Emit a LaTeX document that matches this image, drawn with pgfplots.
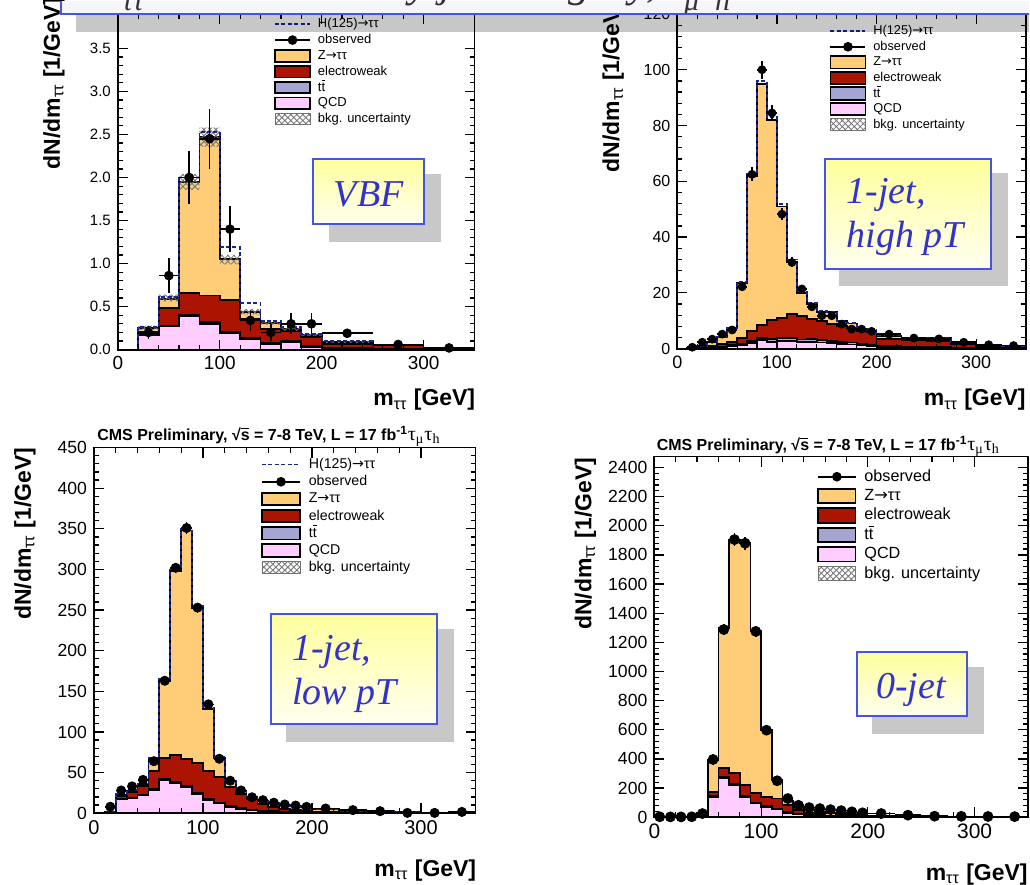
\documentclass[border=0pt]{standalone}
\usepackage{fontspec}
\setmainfont{Liberation Sans}
\newfontfamily\serifit{Liberation Serif}
\newfontfamily\dvs{DejaVu Sans}
\usepackage{pgfplots}
\usepackage{pgfplotstable}
\pgfplotsset{compat=1.18}
\usetikzlibrary{patterns}

\definecolor{zcol}{RGB}{255,205,120}
\definecolor{ewcol}{RGB}{170,20,0}
\definecolor{ttcol}{RGB}{165,165,210}
\definecolor{qcdcol}{RGB}{255,205,255}
\definecolor{hcol}{RGB}{25,35,150}
\definecolor{boxblue}{RGB}{70,85,225}
\definecolor{txtblue}{RGB}{50,50,205}
\definecolor{shadowgray}{RGB}{200,200,200}
\definecolor{titlefill}{RGB}{244,246,251}

\newcommand{\arr}{{\dvs →}}
\newcommand{\ttbar}{t\rlap{\rule[0.78em]{0.3em}{0.07em}}t}
\newcommand{\lsub}[1]{\raisebox{-0.3em}{\fontsize{15}{15}\selectfont #1}}
\newcommand{\ylab}{dN/dm\textsubscript{\mdseries ττ} [1/GeV]}
\newcommand{\xlab}{m\textsubscript{\mdseries ττ} [GeV]}
\newcommand{\cmstitle}{CMS Preliminary, √\rlap{\rule[0.74em]{0.5em}{0.06em}}s = 7-8 TeV, L = 17 fb\textsuperscript{-1}{\serifit\mdseries\fontsize{10}{10}\selectfont τ\textsubscript{μ}τ\textsubscript{h}}}

% ---------- VBF ----------
\pgfplotstableread{
e q t w z h
0 0 0 0 0 0
20 0.17 0.18 0.21 0.25 0.26
40 0.27 0.28 0.48 0.59 0.61
60 0.39 0.40 0.66 1.95 2.00
80 0.30 0.32 0.63 2.47 2.53
100 0.19 0.21 0.58 1.05 1.19
120 0.12 0.14 0.36 0.44 0.54
140 0.07 0.08 0.24 0.31 0.33
160 0.09 0.10 0.22 0.24 0.26
180 0.03 0.04 0.15 0.17 0.18
200 0.01 0.02 0.07 0.09 0.10
250 0.00 0.01 0.05 0.06 0.06
300 0.00 0.00 0.01 0.015 0.015
350 0.00 0.00 0.01 0.015 0.015
}\vbfmc
\pgfplotstableread{
x y ex ey
30 0.20 10 0.08
50 0.86 10 0.20
70 2.00 10 0.31
90 2.45 10 0.35
110 1.40 10 0.27
130 0.34 10 0.12
150 0.20 10 0.10
170 0.30 10 0.12
190 0.30 10 0.12
225 0.19 25 0.05
275 0.06 25 0.03
325 0.02 25 0.02
}\vbfobs

% ---------- 1-jet, high pT ----------
\pgfplotstableread{
e q t w z h
0 0 0 0 0 0
10 0 0 0.1 0.3 0.3
20 0.2 0.3 0.6 1.0 1.0
30 0.3 0.5 1.1 2.3 2.3
40 0.5 0.8 1.7 4.0 4.1
50 0.8 1.2 2.5 7.4 7.5
60 1.3 1.8 3.8 23.5 23.8
70 2.0 2.7 6.4 62 62.5
80 3.0 3.8 8.6 95 96
90 2.5 3.4 10.3 82 83
100 2.8 3.8 11.0 51 52
110 2.8 3.9 12.4 31 32
120 2.3 3.3 11.8 20 21
130 2.5 3.4 10.6 16 16.5
140 2.2 3.0 9.8 13 13.4
150 2.0 2.8 8.8 13 13.2
160 1.8 2.5 8.2 9.8 10
170 1.5 2.2 7.4 9.0 9.2
180 1.2 1.8 6.3 7.0 7.1
190 1.0 1.5 5.8 6.5 6.6
200 0.5 0.9 3.5 4.6 4.7
225 0.4 0.7 3.2 3.9 4.0
250 0.3 0.6 2.8 3.8 3.8
275 0.2 0.4 1.8 2.5 2.5
300 0.1 0.2 1.0 1.5 1.5
325 0.1 0.2 0.7 1.0 1.0
350 0.1 0.2 0.7 1.0 1.0
}\highmc
\pgfplotstableread{
x y ex ey
15 0.5 5 0.3
25 2.3 5 0.5
35 3.4 5 0.6
45 5.2 5 0.7
55 6.7 5 0.8
65 22.2 5 1.5
75 62.5 5 2.5
85 100 5 3.2
95 84.5 5 2.9
105 48.2 5 2.2
115 30.9 5 1.8
125 21.4 5 1.5
135 15.0 5 1.2
145 11.8 5 1.1
155 11.8 5 1.1
165 8.8 5 0.9
175 7.0 5 0.8
185 7.0 5 0.8
195 6.2 5 0.8
212.5 5.2 12.5 0.5
237.5 3.8 12.5 0.4
262.5 3.5 12.5 0.4
287.5 2.3 12.5 0.3
312.5 1.4 12.5 0.25
337.5 1.1 12.5 0.2
}\highobs

% ---------- 1-jet, low pT ----------
\pgfplotstableread{
e q t w z h
0 0 0 0 0 0
10 0 0.2 0.5 1 1
20 17 17.5 21 23 23.5
30 18 18.5 26 28 28.5
40 22 22.8 33 36 36.5
50 29 30 52 67 68
60 41 42 68 163 165
70 37 38 72 298 300
80 32 33 67 348 350
90 24 25 62 253 255
100 16 17 52 128 130
110 12 13 45 68 69
120 8 9 32 40 41
130 5 6 24 27 27.5
140 3.5 4.2 17 20 20.5
150 2.5 3 11 15 15.3
160 2 2.5 7.5 12 12.2
170 1.5 2 5 10 10.1
180 1.2 1.6 3.5 8.5 8.6
190 1 1.3 2.5 7.5 7.6
200 0.6 0.8 1.5 5 5.1
225 0.4 0.5 1 3.2 3.2
250 0.3 0.4 0.7 2.3 2.3
275 0.2 0.3 0.5 1.4 1.4
300 0.1 0.2 0.3 0.9 0.9
325 0.1 0.1 0.2 0.6 0.6
350 0.1 0.1 0.2 0.6 0.6
}\lowmc
\pgfplotstableread{
x y ex ey
15 8 5 1.2
25 28 5 2
35 33 5 2.2
45 41 5 2.5
55 64 5 3
65 163 5 5
75 302 5 6.5
85 351 5 7
95 253 5 6
105 134 5 4.5
115 67 5 3
125 40 5 2.5
135 28 5 2
145 19.6 5 1.7
155 16 5 1.5
165 12.9 5 1.3
175 10.7 5 1.1
185 9.4 5 1
195 7.8 5 1
212.5 5.8 12.5 0.5
237.5 3.8 12.5 0.4
262.5 2.5 12.5 0.3
287.5 0.4 12.5 0.15
312.5 0.4 12.5 0.15
337.5 1.6 12.5 0.2
}\lowobs

% ---------- 0-jet ----------
\pgfplotstableread{
e q t w z
0 0 0 0 0
50 140 145 172 391
60 265 275 338 1298
70 219 228 302 1905
80 139 147 219 1882
90 94 100 167 1278
100 71 76 141 597
110 53 58 128 254
120 30 34 82 115
130 19 22 48 70
140 15 17 30 52
150 8 10 21 38
160 5 6 12 28
170 3 4 8 22
180 2 3 6 16
190 1.5 2 4 12
200 1 1.5 3 9
225 0.5 1 2 5
250 0.3 0.5 1.2 3
275 0.2 0.3 0.8 2
300 0.1 0.2 0.5 1.2
325 0.1 0.1 0.3 0.8
350 0.1 0.1 0.3 0.8
}\zeromc
\pgfplotstableread{
x y ex ey
5 3 5 3
15 2 5 2
25 2 5 2
35 3 5 3
45 25 5 5
55 396 5 20
65 1288 5 36
75 1905 5 44
85 1880 5 43
95 1275 5 36
105 597 5 24
115 250 5 16
125 128 5 11
135 82 5 9
145 66 5 8
155 59 5 8
165 52 5 7
175 45 5 7
185 37 5 6
195 30 5 5
212.5 25 12.5 3
237.5 14 12.5 2.4
262.5 7 12.5 1.7
287.5 6 12.5 1.5
312.5 5 12.5 1.4
337.5 4 12.5 1.3
}\zeroobs

\pgfplotsset{
  rootax/.style={
    scale only axis, anchor=south west,
    xmin=0, xmax=350, ymin=0,
    axis on top,
    axis line style={line width=0.9pt},
    tick align=inside, tick pos=both,
    major tick length=5pt, minor tick length=2.5pt,
    every tick/.append style={black, line width=0.6pt},
    minor tick num=4,
    xtick={0,100,200,300},
    scaled ticks=false,
    /pgf/number format/assume math mode=true,
    /pgf/number format/1000 sep={},
    legend cell align=left,
    legend style={draw=none, fill=none, anchor=north west, inner sep=0pt, row sep=0pt},
  },
  legline/.style={legend image code/.code={\draw[##1] (0pt,0pt) -- (#1,0pt);}},
  legobs/.style={legend image code/.code={\draw[##1] (0pt,0pt) -- (#1,0pt); \fill[black] (0.5*#1,0pt) circle (2pt);}},
  legbox/.style 2 args={legend image code/.code={\draw[##1] (0pt,-#2) rectangle (#1,#2);}},
  mcfill/.style={const plot, draw=black, line width=0.9pt, forget plot},
  hline/.style={const plot, color=hcol, dash pattern=on 2pt off 1.2pt, line width=0.9pt, forget plot},
  obs/.style={black, only marks, mark=*, mark size=#1, forget plot,
    error bars/x dir=both, error bars/x explicit,
    error bars/y dir=both, error bars/y explicit,
    error bars/error mark=none,
    error bars/error bar style={line width=0.8pt, black}},
}
\tikzset{
  axlabel/.style={inner sep=0pt, font=\fontsize{11.5}{12}\selectfont\bfseries},
  cmstit/.style={anchor=base west, inner sep=0pt, font=\fontsize{8}{9}\selectfont\bfseries},
}

\begin{document}
\begin{tikzpicture}
\fill[white] (0pt,0pt) rectangle (515pt,441pt);

% ================= VBF =================
\begin{axis}[rootax, at={(59pt,266.5pt)}, width=178.5pt, height=168pt,
  ymax=3.9, ytick={0,0.5,1,1.5,2,2.5,3,3.5},
  xticklabel style={font=\fontsize{9.5}{10}\selectfont},
  yticklabel style={font=\fontsize{7.5}{8}\selectfont, /pgf/number format/fixed, /pgf/number format/fixed zerofill, /pgf/number format/precision=1},
  legend style={at={(0.437,0.994)}, font=\fontsize{6.5}{7}\selectfont, column sep=3.5pt,
    nodes={inner sep=0pt, inner ysep=0.75pt, text height=5pt, text depth=1.4pt}},
]
\addlegendimage{legline=17.5pt, color=hcol, dash pattern=on 2pt off 1.2pt, line width=0.9pt}
\addlegendentry{H(125)\arr ττ}
\addlegendimage{legobs=17.5pt, black, line width=0.8pt}
\addlegendentry{observed}
\addlegendimage{legbox={17.5pt}{2.9pt}, fill=zcol, draw=black, line width=0.9pt}
\addlegendentry{Z\arr ττ}
\addlegendimage{legbox={17.5pt}{2.9pt}, fill=ewcol, draw=black, line width=0.9pt}
\addlegendentry{electroweak}
\addlegendimage{legbox={17.5pt}{2.9pt}, fill=ttcol, draw=black, line width=0.9pt}
\addlegendentry{\ttbar}
\addlegendimage{legbox={17.5pt}{2.9pt}, fill=qcdcol, draw=black, line width=0.9pt}
\addlegendentry{QCD}
\addlegendimage{legbox={17.5pt}{2.9pt}, pattern=crosshatch, pattern color=black!55, draw=black!55, line width=0.4pt}
\addlegendentry{bkg. uncertainty}
\addplot[mcfill, fill=zcol] table[x=e,y=z]{\vbfmc} \closedcycle;
\addplot[mcfill, fill=ewcol] table[x=e,y=w]{\vbfmc} \closedcycle;
\addplot[mcfill, fill=ttcol] table[x=e,y=t]{\vbfmc} \closedcycle;
\addplot[mcfill, fill=qcdcol] table[x=e,y=q]{\vbfmc} \closedcycle;
% background uncertainty band (upper edge, then lower edge back)
\addplot[pattern=crosshatch, pattern color=black!55, draw=none, forget plot] coordinates {
 (20,0.28) (40,0.28) (40,0.64) (60,0.64) (60,2.04) (80,2.04) (80,2.58) (100,2.58)
 (100,1.10) (120,1.10) (120,0.47) (140,0.47) (140,0.33) (160,0.33) (160,0.26) (180,0.26)
 (180,0.18) (200,0.18) (200,0.10) (250,0.10) (250,0.065) (300,0.065) (300,0.02) (350,0.02)
 (350,0.01) (300,0.01) (300,0.055) (250,0.055) (250,0.08) (200,0.08) (200,0.16) (180,0.16)
 (180,0.22) (160,0.22) (160,0.29) (140,0.29) (140,0.41) (120,0.41) (120,0.99) (100,0.99)
 (100,2.36) (80,2.36) (80,1.86) (60,1.86) (60,0.56) (40,0.56) (40,0.23) (20,0.23) };
\addplot[hline] table[x=e,y=h]{\vbfmc};
\addplot[obs=2.2pt] table[x=x,y=y,x error=ex,y error=ey]{\vbfobs};
\end{axis}

% ================= 1-jet, high pT =================
\begin{axis}[rootax, at={(339pt,267pt)}, width=174.5pt, height=167.5pt,
  ymax=120, ytick={0,20,...,120},
  xticklabel style={font=\fontsize{9}{10}\selectfont},
  yticklabel style={font=\fontsize{8}{9}\selectfont},
  legend style={at={(0.4355,0.973)}, font=\fontsize{6.4}{7}\selectfont, column sep=3.5pt,
    nodes={inner sep=0pt, inner ysep=0.7pt, text height=5pt, text depth=1.4pt}},
]
\addlegendimage{legline=17.5pt, color=hcol, dash pattern=on 2pt off 1.2pt, line width=0.9pt}
\addlegendentry{H(125)\arr ττ}
\addlegendimage{legobs=17.5pt, black, line width=0.8pt}
\addlegendentry{observed}
\addlegendimage{legbox={17.5pt}{3.1pt}, fill=zcol, draw=black, line width=0.9pt}
\addlegendentry{Z\arr ττ}
\addlegendimage{legbox={17.5pt}{3.1pt}, fill=ewcol, draw=black, line width=0.9pt}
\addlegendentry{electroweak}
\addlegendimage{legbox={17.5pt}{3.1pt}, fill=ttcol, draw=black, line width=0.9pt}
\addlegendentry{\ttbar}
\addlegendimage{legbox={17.5pt}{3.1pt}, fill=qcdcol, draw=black, line width=0.9pt}
\addlegendentry{QCD}
\addlegendimage{legbox={17.5pt}{3.1pt}, pattern=crosshatch, pattern color=black!55, draw=black!55, line width=0.4pt}
\addlegendentry{bkg. uncertainty}
\addplot[mcfill, fill=zcol] table[x=e,y=z]{\highmc} \closedcycle;
\addplot[mcfill, fill=ewcol] table[x=e,y=w]{\highmc} \closedcycle;
\addplot[mcfill, fill=ttcol] table[x=e,y=t]{\highmc} \closedcycle;
\addplot[mcfill, fill=qcdcol] table[x=e,y=q]{\highmc} \closedcycle;
\addplot[hline] table[x=e,y=h]{\highmc};
\addplot[obs=2pt] table[x=x,y=y,x error=ex,y error=ey]{\highobs};
\end{axis}

% ================= 1-jet, low pT =================
\begin{axis}[rootax, at={(47pt,34.5pt)}, width=191pt, height=183pt,
  ymax=450, ytick={0,50,...,450},
  xticklabel style={font=\fontsize{10}{11}\selectfont},
  yticklabel style={font=\fontsize{8.8}{10}\selectfont},
  legend style={at={(0.437,0.978)}, font=\fontsize{7.1}{8}\selectfont, column sep=4pt,
    nodes={inner sep=0pt, inner ysep=0.8pt, text height=5.5pt, text depth=1.5pt}},
]
\addlegendimage{legline=19pt, color=hcol, dash pattern=on 2pt off 1.2pt, line width=0.9pt}
\addlegendentry{H(125)\arr ττ}
\addlegendimage{legobs=19pt, black, line width=0.8pt}
\addlegendentry{observed}
\addlegendimage{legbox={19pt}{3.1pt}, fill=zcol, draw=black, line width=0.9pt}
\addlegendentry{Z\arr ττ}
\addlegendimage{legbox={19pt}{3.1pt}, fill=ewcol, draw=black, line width=0.9pt}
\addlegendentry{electroweak}
\addlegendimage{legbox={19pt}{3.1pt}, fill=ttcol, draw=black, line width=0.9pt}
\addlegendentry{\ttbar}
\addlegendimage{legbox={19pt}{3.1pt}, fill=qcdcol, draw=black, line width=0.9pt}
\addlegendentry{QCD}
\addlegendimage{legbox={19pt}{3.1pt}, pattern=crosshatch, pattern color=black!55, draw=black!55, line width=0.4pt}
\addlegendentry{bkg. uncertainty}
\addplot[mcfill, fill=zcol] table[x=e,y=z]{\lowmc} \closedcycle;
\addplot[mcfill, fill=ewcol] table[x=e,y=w]{\lowmc} \closedcycle;
\addplot[mcfill, fill=ttcol] table[x=e,y=t]{\lowmc} \closedcycle;
\addplot[mcfill, fill=qcdcol] table[x=e,y=q]{\lowmc} \closedcycle;
\addplot[hline] table[x=e,y=h]{\lowmc};
\addplot[obs=2.3pt] table[x=x,y=y,x error=ex,y error=ey]{\lowobs};
\end{axis}

% ================= 0-jet =================
\begin{axis}[rootax, at={(327.5pt,32.5pt)}, width=187pt, height=180.5pt,
  ymax=2475, ytick={0,200,...,2400},
  xticklabel style={font=\fontsize{10.5}{11}\selectfont},
  yticklabel style={font=\fontsize{8.8}{10}\selectfont},
  legend style={at={(0.435,0.972)}, font=\fontsize{8.1}{9}\selectfont, column sep=4pt,
    nodes={inner sep=0pt, inner ysep=0.9pt, text height=6.2pt, text depth=1.7pt}},
]
\addlegendimage{legobs=18.7pt, black, line width=0.8pt}
\addlegendentry{observed}
\addlegendimage{legbox={18.7pt}{3.6pt}, fill=zcol, draw=black, line width=0.9pt}
\addlegendentry{Z\arr ττ}
\addlegendimage{legbox={18.7pt}{3.6pt}, fill=ewcol, draw=black, line width=0.9pt}
\addlegendentry{electroweak}
\addlegendimage{legbox={18.7pt}{3.6pt}, fill=ttcol, draw=black, line width=0.9pt}
\addlegendentry{\ttbar}
\addlegendimage{legbox={18.7pt}{3.6pt}, fill=qcdcol, draw=black, line width=0.9pt}
\addlegendentry{QCD}
\addlegendimage{legbox={18.7pt}{3.6pt}, pattern=crosshatch, pattern color=black!55, draw=black!55, line width=0.4pt}
\addlegendentry{bkg. uncertainty}
\addplot[mcfill, fill=zcol] table[x=e,y=z]{\zeromc} \closedcycle;
\addplot[mcfill, fill=ewcol] table[x=e,y=w]{\zeromc} \closedcycle;
\addplot[mcfill, fill=ttcol] table[x=e,y=t]{\zeromc} \closedcycle;
\addplot[mcfill, fill=qcdcol] table[x=e,y=q]{\zeromc} \closedcycle;
\addplot[obs=2.5pt] table[x=x,y=y,x error=ex,y error=ey]{\zeroobs};
\end{axis}

% ================= axis titles =================
\begin{scope}
\clip (0pt,0pt) rectangle (515pt,441pt);
\node[overlay, axlabel, rotate=90, anchor=south east] at (32.5pt,443pt) {\ylab};
\node[overlay, axlabel, rotate=90, anchor=south east] at (312.5pt,441.5pt) {\ylab};
\end{scope}
\node[axlabel, rotate=90, anchor=south east] at (18pt,217.5pt) {\ylab};
\node[axlabel, rotate=90, anchor=south east] at (298.5pt,212.5pt) {\ylab};
\node[axlabel, anchor=north east] at (238pt,247pt) {\xlab};
\node[axlabel, anchor=north east] at (513.5pt,247pt) {\xlab};
\node[axlabel, anchor=north east] at (238.5pt,11.5pt) {\xlab};
\node[axlabel, anchor=north east] at (514.5pt,9.5pt) {\xlab};
\node[cmstit] at (48.5pt,221pt) {\cmstitle};
\node[cmstit] at (328.5pt,216pt) {\cmstitle};

% ================= category labels =================
\tikzset{catshadow/.style={fill=shadowgray},
  catbox/.style={draw=boxblue, line width=1pt, top color=yellow!38, bottom color=yellow!6},
  cattext/.style={text=txtblue, inner sep=0pt, font=\serifit\itshape\fontsize{19}{19}\selectfont}}
\fill[catshadow] (164.5pt,320.5pt) rectangle (220.5pt,354.5pt);
\shade[catbox] (156.5pt,329.5pt) rectangle (212pt,362pt);
\node[cattext, anchor=base] at (184.5pt,338pt) {VBF};

\fill[catshadow] (420pt,298.5pt) rectangle (504.5pt,355pt);
\shade[catbox] (413pt,307pt) rectangle (496pt,362pt);
\node[cattext, anchor=base west] at (423.5pt,339.5pt) {1-jet,};
\node[cattext, anchor=base west] at (423.5pt,317.5pt) {high pT};

\fill[catshadow] (143pt,70pt) rectangle (227pt,126.5pt);
\shade[catbox] (135.5pt,79pt) rectangle (218.5pt,134pt);
\node[cattext, anchor=base west] at (146pt,111pt) {1-jet,};
\node[cattext, anchor=base west] at (146pt,89pt) {low pT};

\fill[catshadow] (436.5pt,74pt) rectangle (492.5pt,107.5pt);
\shade[catbox] (429pt,83pt) rectangle (484pt,115pt);
\node[cattext, anchor=base] at (456pt,92pt) {0-jet};

% ================= slide title bar =================
\fill[black, opacity=0.22] (38pt,425.5pt) rectangle (515pt,434.5pt);
\fill[titlefill] (30.5pt,434.5pt) rectangle (515pt,441pt);
\draw[boxblue, line width=1pt] (515pt,434.5pt) -- (30.5pt,434.5pt) -- (30.5pt,441pt);
\begin{scope}
\clip (31pt,435pt) rectangle (515pt,441pt);
\node[overlay, anchor=base west, inner sep=0pt, text=black!80, font=\serifit\itshape\fontsize{22}{22}\selectfont]
  at (45pt,443pt) {m\lsub{ττ} distributions by jet category, τ\lsub{μ}τ\lsub{h}};
\end{scope}
\end{tikzpicture}
\end{document}
